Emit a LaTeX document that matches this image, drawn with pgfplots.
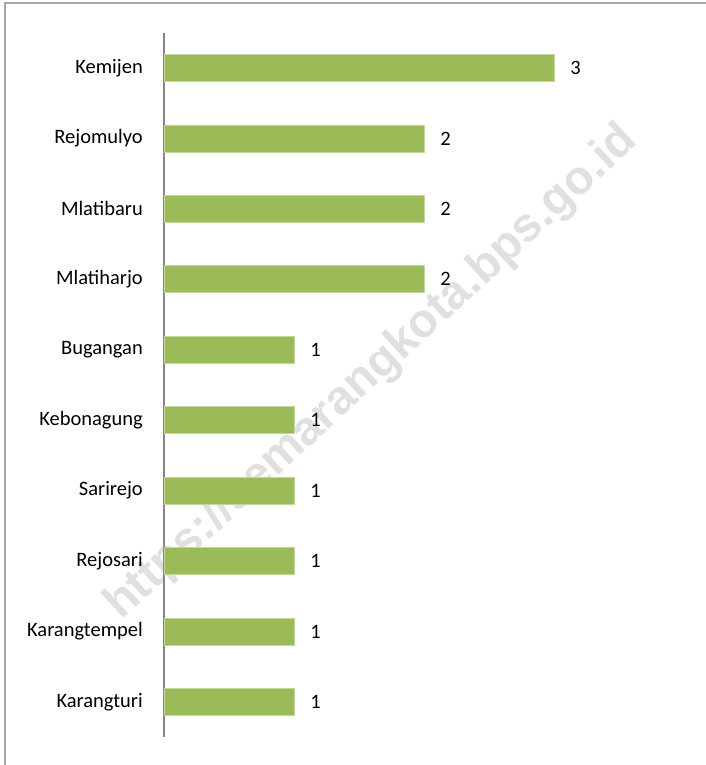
\documentclass[border=0pt]{standalone}
\usepackage{pgfplots}
\pgfplotsset{compat=1.18}
\usepackage{fontspec}
\setmainfont{Carlito}
\newfontfamily\wmfont{Liberation Sans}
\definecolor{barfill}{HTML}{9BBB59}
\definecolor{baredge}{HTML}{C3D69B}
\definecolor{axgray}{HTML}{868686}
\definecolor{wm}{HTML}{E0E0E0}
\begin{document}
\begin{tikzpicture}[x=1pt,y=1pt]
\path[use as bounding box] (0,0) rectangle (706,765);
\node[rotate=42.7, text=wm, inner sep=0pt, font=\wmfont\bfseries\fontsize{47.5}{47.5}\selectfont] at (372,392) {https://semarangkota.bps.go.id};
\draw[color=gray!70, line width=2pt] (5,0) -- (5,762) -- (706,762);
\begin{axis}[
  at={(164pt,27.8pt)}, anchor=south west,
  scale only axis, width=520pt, height=704.4pt,
  xmin=0, xmax=4, ymin=-0.5, ymax=9.5,
  xbar, bar width=27pt,
  axis x line=none, axis y line*=left,
  y axis line style={draw=axgray, line width=1.3pt},
  ytick={0,...,9},
  yticklabels={Karangturi,Karangtempel,Rejosari,Sarirejo,Kebonagung,Bugangan,Mlatiharjo,Mlatibaru,Rejomulyo,Kemijen},
  major tick length=0pt,
  /pgf/number format/assume math mode=true,
  yticklabel style={font=\fontsize{20.5}{24}\selectfont, inner sep=0pt, xshift=-21pt, text=black},
  nodes near coords,
  nodes near coords style={font=\fontsize{20.5}{24}\selectfont, anchor=west, inner sep=0pt, xshift=16pt, text=black},
  clip=false,
]
\addplot[fill=barfill, draw=baredge, line width=0.8pt] coordinates {
(1,0) (1,1) (1,2) (1,3) (1,4) (1,5) (2,6) (2,7) (2,8) (3,9)};
\end{axis}
\end{tikzpicture}
\end{document}
